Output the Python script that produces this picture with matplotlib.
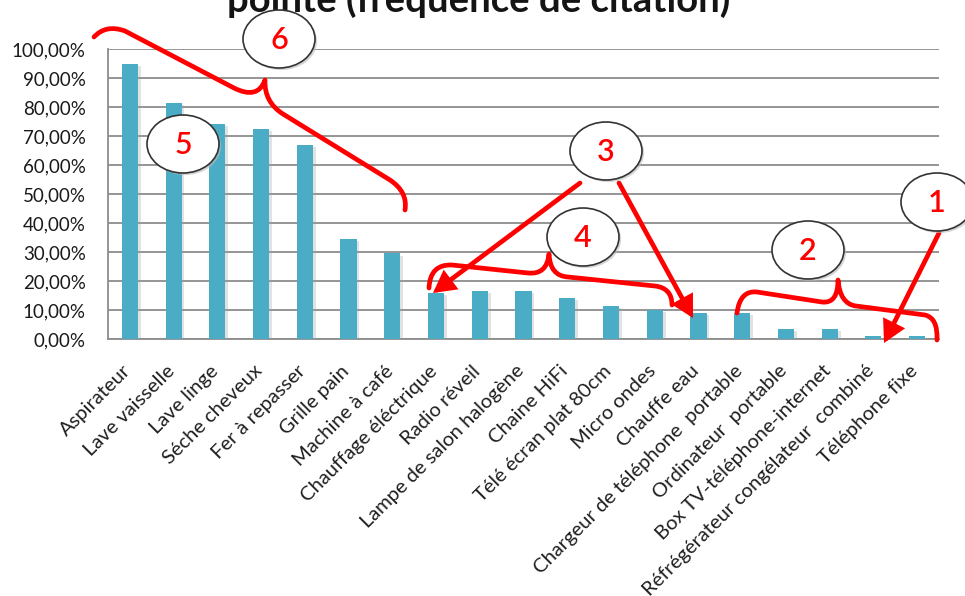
import matplotlib
matplotlib.use("Agg")
import matplotlib.pyplot as plt
import matplotlib.patheffects as pe
from matplotlib.path import Path
from matplotlib.patches import PathPatch, Ellipse, FancyArrowPatch
from matplotlib.transforms import ScaledTranslation

# Appareils cités comme utilisés en période de pointe
categories = [
    "Aspirateur", "Lave vaisselle", "Lave linge", "Séche cheveux", "Fer à repasser",
    "Grille pain", "Machine à café", "Chauffage éléctrique", "Radio réveil",
    "Lampe de salon halogène", "Chaine HiFi", "Télé écran plat 80cm", "Micro ondes",
    "Chauffe eau", "Chargeur de téléphone  portable", "Ordinateur  portable",
    "Box TV-téléphone-internet", "Réfrégérateur congélateur  combiné", "Téléphone fixe",
]
frequence = [95.0, 81.5, 74.0, 72.5, 67.0, 34.5, 29.5, 16.0, 16.5, 16.5,
             14.0, 11.5, 10.0, 9.0, 9.0, 3.5, 3.5, 1.2, 1.2]
yticks = [0, 10, 20, 30, 40, 50, 60, 70, 80, 90, 100]
ytick_labels = [f"{v},00%" for v in yticks]
title = "pointe (fréquence de citation)"

W, H, DPI = 965, 596, 100
BAR = "#4BACC6"
GRID = "#8C8C8C"
RED = "#FF0000"
FONT = ["Lato", "DejaVu Sans"]

fig = plt.figure(figsize=(W / DPI, H / DPI), dpi=DPI)
fig.patch.set_facecolor("white")

ax = fig.add_axes([108 / W, 1 - 339 / H, (939 - 108) / W, (339 - 49) / H])
x = range(len(categories))
bars = ax.bar(x, frequence, width=0.37, color=BAR, zorder=3)
for b in bars:
    b.set_path_effects([pe.SimplePatchShadow(offset=(2, -1.5), shadow_rgbFace="#a0a0a0", alpha=0.3),
                        pe.Normal()])

ax.set_xlim(-0.5, len(categories) - 0.5)
ax.set_ylim(0, 100)
ax.set_yticks(yticks)
ax.set_yticklabels(ytick_labels, fontsize=13.5, color="#1a1a1a", family=FONT)
ax.yaxis.grid(True, color=GRID, linewidth=1.3, zorder=0)
ax.set_axisbelow(True)
ax.set_xticks(list(x))
ax.set_xticklabels(categories, rotation=45, ha="right", va="center", rotation_mode="anchor",
                   fontsize=14.5, color="#1f1f1f", family=FONT)
ax.tick_params(axis="both", length=0)
ax.tick_params(axis="y", pad=16)
ax.tick_params(axis="x", pad=21)
shift = ScaledTranslation(-2 / DPI, 0, fig.dpi_scale_trans)
for lab in ax.get_xticklabels():
    lab.set_transform(lab.get_transform() + shift)
for side in ("top", "right"):
    ax.spines[side].set_visible(False)
for side in ("left", "bottom"):
    ax.spines[side].set_color(GRID)
    ax.spines[side].set_linewidth(1.3)

fig.text(479 / W, 1 - 12 / H, title, ha="center", va="baseline", fontsize=27.5,
         fontweight="bold", color="#141414", family=FONT)

# Overlay in pixel coordinates for the hand-drawn callouts
ov = fig.add_axes([0, 0, 1, 1], zorder=5)
ov.set_xlim(0, W)
ov.set_ylim(H, 0)
ov.axis("off")
ov.patch.set_alpha(0)

LW = 3.4


def brace(pts):
    """pts: start, then (ctrl, end) pairs for curves and single points for lines."""
    verts, codes = [pts[0]], [Path.MOVETO]
    for item in pts[1:]:
        if isinstance(item[0], tuple):
            verts += [item[0], item[1]]
            codes += [Path.CURVE3, Path.CURVE3]
        else:
            verts.append(item)
            codes.append(Path.LINETO)
    ov.add_patch(PathPatch(Path(verts, codes), fill=False, edgecolor=RED, lw=LW,
                           capstyle="round", joinstyle="round"))


# brace 6
brace([(94, 37), ((106, 24), (125, 31)), (234, 88), ((258, 100), (265, 80)),
       ((264, 102), (283, 114)), (390, 180), ((408, 192), (405, 210))])
# brace 4
brace([(429, 288), ((430, 264), (452, 265)), (528, 273), ((547, 275), (549, 254)),
       ((550, 276), (568, 277)), (655, 286), ((672, 288), (672, 305))])
# brace 2
brace([(737, 313), ((740, 290), (757, 292)), (822, 302), ((838, 304), (838, 280)),
       ((840, 304), (856, 306)), (925, 315), ((938, 318), (937, 340))])


def arrow(tail, head):
    ov.add_patch(FancyArrowPatch(tail, head, arrowstyle="-|>,head_length=0.55,head_width=0.3",
                                 mutation_scale=20, color=RED, lw=LW, shrinkA=0, shrinkB=0,
                                 capstyle="round", joinstyle="miter"))


arrow((580, 183), (433, 293))
arrow((619, 183), (693, 318))
arrow((939, 233), (884, 343))

bubbles = [("6", 279, 39), ("5", 183, 144), ("3", 606, 151), ("4", 583, 237),
           ("2", 808, 250), ("1", 937, 202)]
for num, cx, cy in bubbles:
    e = Ellipse((cx, cy), 72, 58, facecolor="white", edgecolor="#333333", lw=1.2)
    e.set_path_effects([pe.SimplePatchShadow(offset=(1.5, -1.5), shadow_rgbFace="#bbbbbb", alpha=0.6),
                        pe.Normal()])
    ov.add_patch(e)
    ov.text(cx, cy + 1, num, ha="center", va="center", fontsize=22, color=RED,
            fontweight="semibold", family=FONT)

fig.savefig("out.png", dpi=DPI)
